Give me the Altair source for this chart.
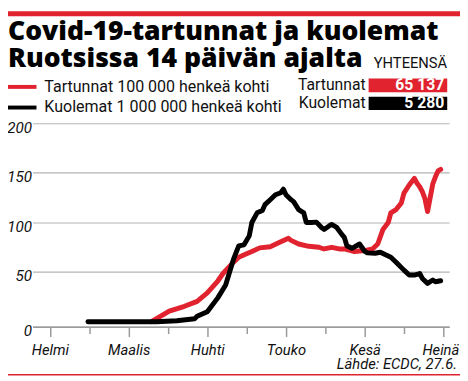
import pandas as pd
import altair as alt

# ---------------- data ----------------
title_lines = ["Covid-19-tartunnat ja kuolemat", "Ruotsissa 14 päivän ajalta"]
legend_labels = ["Tartunnat 100 000 henkeä kohti", "Kuolemat 1 000 000 henkeä kohti"]
total_header = "YHTEENSÄ"
total_names = ["Tartunnat", "Kuolemat"]
total_values = ["65 137", "5 280"]
source_text = "Lähde: ECDC, 27.6."
month_labels = ["", "Helmi", "Maalis", "Huhti", "Touko", "Kesä", "Heinä"]
y_ticks = [-5, 50, 100, 150, 200]

red_dates = ["2020-03-10", "2020-03-17", "2020-03-23", "2020-03-28", "2020-04-01",
             "2020-04-05", "2020-04-07", "2020-04-11", "2020-04-13", "2020-04-16",
             "2020-04-18", "2020-04-21", "2020-04-25", "2020-04-28", "2020-05-02",
             "2020-05-03", "2020-05-06", "2020-05-10", "2020-05-14", "2020-05-16",
             "2020-05-19", "2020-05-22", "2020-05-24", "2020-05-28", "2020-06-01",
             "2020-06-04", "2020-06-06", "2020-06-08", "2020-06-10", "2020-06-11",
             "2020-06-13", "2020-06-15", "2020-06-16", "2020-06-18", "2020-06-20",
             "2020-06-21", "2020-06-22", "2020-06-23", "2020-06-24", "2020-06-25",
             "2020-06-26", "2020-06-27", "2020-06-28", "2020-06-29", "2020-06-30"]
red_values = [0, 10.6, 15.5, 20.5, 29,
              41, 48.6, 60, 65, 68.4,
              70.7, 74.4, 75.6, 79.3, 84,
              82, 78.3, 76, 75, 73.3,
              75, 73.3, 73.3, 70.7, 71.7,
              73.3, 78.3, 93, 100, 109.7,
              113, 119.7, 129.6, 137.8, 144.5,
              139.5, 136, 131, 124, 111,
              125, 139, 146, 152, 153.5]

black_dates = ["2020-02-15", "2020-03-12", "2020-03-20", "2020-03-27", "2020-03-28",
               "2020-04-01", "2020-04-05", "2020-04-08", "2020-04-11", "2020-04-13",
               "2020-04-15", "2020-04-17", "2020-04-18", "2020-04-20", "2020-04-22",
               "2020-04-23", "2020-04-25", "2020-04-27", "2020-04-29", "2020-04-30",
               "2020-05-01", "2020-05-03", "2020-05-04", "2020-05-06", "2020-05-08",
               "2020-05-09", "2020-05-11", "2020-05-13", "2020-05-15", "2020-05-16",
               "2020-05-18", "2020-05-19", "2020-05-21", "2020-05-23", "2020-05-24",
               "2020-05-25", "2020-05-27", "2020-05-30", "2020-06-01", "2020-06-02",
               "2020-06-05", "2020-06-07", "2020-06-09", "2020-06-11", "2020-06-13",
               "2020-06-16", "2020-06-18", "2020-06-20", "2020-06-22", "2020-06-23",
               "2020-06-25", "2020-06-27", "2020-06-28", "2020-06-30"]
black_values = [0, 0, 1, 3, 5.5,
                10, 24, 37, 63, 76.5,
                77.5, 86.5, 100, 109.7, 112,
                118, 123, 128, 130, 133.6,
                128, 123, 121, 113, 109.7,
                100, 100, 100.4, 95, 93,
                96.5, 98, 95, 88, 85,
                76.6, 74, 78.3, 71, 69.4,
                69, 70, 67.4, 65, 60,
                52, 47, 47, 48.6, 43.6,
                38.6, 42, 40.3, 41.3]

RED = "#e0232e"
BLACK = "#000000"
GRID = "#b4b4b4"
BODY_FONT = "Roboto"
TITLE_FONT = "Open Sans"


def month_pos(dates):
    d = pd.to_datetime(pd.Series(dates))
    # months drawn with equal width: Feb 1 -> 1, Mar 1 -> 2, ...
    return (d.dt.month - 1) + (d.dt.day - 1) / d.dt.days_in_month


df_red = pd.DataFrame({"m": month_pos(red_dates), "value": red_values, "date": red_dates})
df_black = pd.DataFrame({"m": month_pos(black_dates), "value": black_values, "date": black_dates})

names_js = "[" + ",".join("'" + s + "'" for s in month_labels) + "]"

x_scale = alt.Scale(domain=[0.779, 6.075], nice=False, zero=False)
y_scale = alt.Scale(domain=[-5, 200], nice=False, zero=False)

x_axis = alt.Axis(
    values=[1, 1.5, 2, 2.5, 3, 3.5, 4, 4.5, 5, 5.5, 6],
    labelExpr=f"datum.value % 1 === 0 ? {names_js}[datum.value] : ''",
    title=None, grid=False, domain=True, domainColor="#9a9a9a", domainWidth=1.5,
    ticks=True, tickColor="#9a9a9a", tickWidth=1.5,
    tickSize={"expr": "datum.value % 1 === 0 ? 10 : 7"},
    labelFont=BODY_FONT, labelFontStyle="italic", labelFontSize=15, labelColor="#111111",
    labelPadding=6, labelFlush=False, labelOverlap=False,
    labelOffset={"expr": "datum.value === 6 ? -3 : 0"},
)
y_axis = alt.Axis(
    values=y_ticks,
    labelExpr="datum.value < 0 ? '0' : datum.label",
    title=None, grid=True, gridColor=GRID, gridWidth=1.2, domain=False, ticks=False,
    labelFont=BODY_FONT, labelFontStyle="italic", labelFontSize=15.5, labelColor="#111111",
    labelPadding=1, labelOffset=4,
)

red_line = alt.Chart(df_red).mark_line(
    color=RED, strokeWidth=5, strokeCap="round", strokeJoin="round"
).encode(
    x=alt.X("m:Q", scale=x_scale, axis=x_axis),
    y=alt.Y("value:Q", scale=y_scale, axis=y_axis),
    order="m:Q",
)
black_line = alt.Chart(df_black).mark_line(
    color=BLACK, strokeWidth=5, strokeCap="round", strokeJoin="round"
).encode(
    x=alt.X("m:Q", scale=x_scale),
    y=alt.Y("value:Q", scale=y_scale),
    order="m:Q",
)

one = pd.DataFrame({"k": [0]})
base = alt.Chart(one)


def txt(text, x, y, size, align="left", weight="normal", font=BODY_FONT, color="#111111",
        style="normal", baseline="alphabetic"):
    return base.mark_text(
        text=text, align=align, baseline=baseline, fontSize=size, fontWeight=weight,
        font=font, color=color, fontStyle=style
    ).encode(x=alt.value(x), y=alt.value(y))


def rule(x1, x2, y, color, width):
    return base.mark_rule(color=color, strokeWidth=width).encode(
        x=alt.value(x1), x2=alt.value(x2), y=alt.value(y)
    )


def box(x1, x2, y1, y2, color):
    return base.mark_rect(color=color).encode(
        x=alt.value(x1), x2=alt.value(x2), y=alt.value(y1), y2=alt.value(y2)
    )


# coordinates relative to the plot origin (page x 33, y 122)
header = [
    box(-25, 435, -114, -109, RED),
    txt(title_lines[0], -25, -84.5, 27, weight=800, font=TITLE_FONT, color="#000000"),
    txt(title_lines[1], -25, -57, 27, weight=800, font=TITLE_FONT, color="#000000"),
    rule(-25, 4, -37, RED, 4),
    rule(-25, 4, -16, BLACK, 4),
    txt(legend_labels[0], 12, -37, 16.3, baseline="middle"),
    txt(legend_labels[1], 12, -16, 16.3, baseline="middle"),
    txt(total_header, 422, -56, 15, align="right"),
    box(342, 422, -45.5, -31.5, RED),
    box(342, 422, -27, -13.5, BLACK),
    txt(total_names[0], 339, -38.5, 16, align="right", baseline="middle"),
    txt(total_names[1], 339, -20.3, 16, align="right", baseline="middle"),
    txt(total_values[0], 419, -38.5, 16, align="right", weight="bold", color="#ffffff",
        baseline="middle"),
    txt(total_values[1], 419, -20.3, 16, align="right", weight="bold", color="#ffffff",
        baseline="middle"),
    txt(source_text, 432, 250, 15, align="right", style="italic"),
    rule(-25, 435, 256, RED, 1.5),
]

chart = alt.layer(red_line, black_line, *header).properties(
    width=424,
    height=207,
    padding={"left": 25, "top": 114, "right": 11, "bottom": 52},
    autosize=alt.AutoSizeParams(type="none"),
    background="#ffffff",
).configure_view(stroke=None)

chart.save("out.html", embed_options={"renderer": "svg", "actions": False})
